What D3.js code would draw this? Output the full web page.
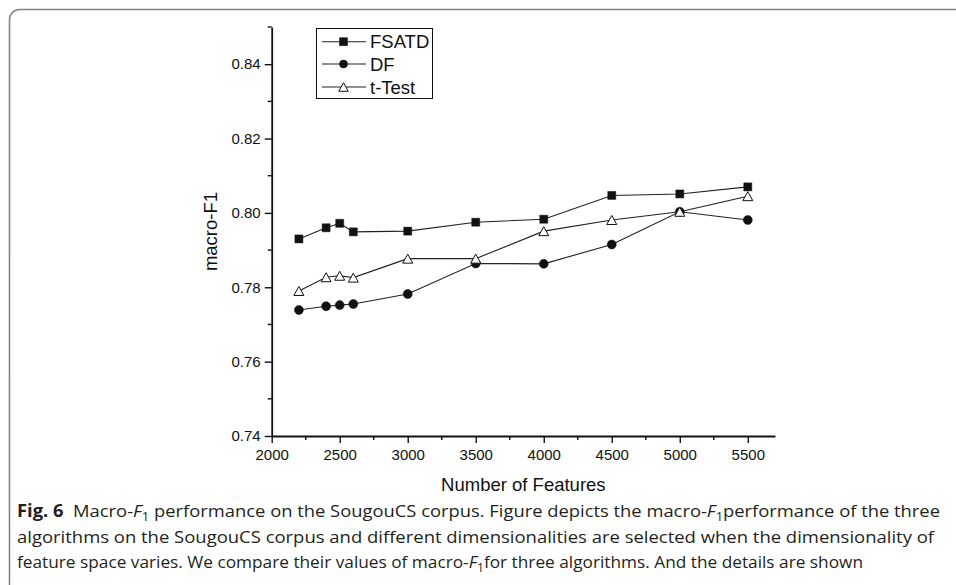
<!DOCTYPE html>
<html>
<head>
<meta charset="utf-8">
<script src="https://cdn.jsdelivr.net/npm/d3@7"></script>
<style>
    body { margin: 0; background: #fff; }
    svg { display: block; }
</style>
</head>
<body>
<div id="svg-container"></div>
<script>
const [WIDTH, HEIGHT] = [956, 585]
const PLOT = { left: 271.7, right: 775, top: 27, bottom: 436 }

// values
const features = [2200, 2400, 2500, 2600, 3000, 3500, 4000, 4500, 5000, 5500]
const fsatd = [0.7930, 0.7960, 0.7972, 0.7949, 0.7951, 0.7975, 0.7983, 0.8047, 0.8051, 0.8070]
const df = [0.7739, 0.7749, 0.7752, 0.7755, 0.7782, 0.7864, 0.7863, 0.7915, 0.8003, 0.7981]
const tTest = [0.7790, 0.7827, 0.7831, 0.7826, 0.7877, 0.7877, 0.7951, 0.7981, 0.8003, 0.8045]
const seriesNames = ['FSATD', 'DF', 't-Test']
const xTicks = [2000, 2500, 3000, 3500, 4000, 4500, 5000, 5500]
const xMinorTicks = [2250, 2750, 3250, 3750, 4250, 4750, 5250]
const yTicks = [0.74, 0.76, 0.78, 0.80, 0.82, 0.84]
const yMinorTicks = [0.75, 0.77, 0.79, 0.81, 0.83, 0.85]

const FONT = '"Liberation Sans", Arial, sans-serif'
const CAPTION_FONT = '"Open Sans", "Noto Sans", sans-serif'
const INK = '#111'

function markerPath(kind, s) {
    if (kind === 'square') return `M${-s/2},${-s/2}h${s}v${s}h${-s}Z`
    if (kind === 'circle') return `M${-s/2},0a${s/2},${s/2} 0 1,0 ${s},0a${s/2},${s/2} 0 1,0 ${-s},0Z`
    return `M0,${-s*0.45}L${s/2},${s*0.45}L${-s/2},${s*0.45}Z` // triangle
}

function main() {
    const series = [
        { name: seriesNames[0], values: fsatd, kind: 'square', size: 8, fill: INK },
        { name: seriesNames[1], values: df, kind: 'circle', size: 9, fill: INK },
        { name: seriesNames[2], values: tTest, kind: 'triangle', size: 10, fill: '#fff' },
    ]

    const svg = d3.select('#svg-container').append('svg')
        .attr('width', WIDTH)
        .attr('height', HEIGHT)
        .attr('viewBox', [0, 0, WIDTH, HEIGHT])

    // rounded figure frame, runs off the right and bottom edges
    svg.append('rect')
        .attr('x', 9.5).attr('y', 9.5)
        .attr('width', 1000).attr('height', 620)
        .attr('rx', 10)
        .attr('fill', 'none')
        .attr('stroke', '#808080')
        .attr('stroke-width', 1.5)

    const x = d3.scaleLinear([2000, 5700], [PLOT.left, PLOT.right])
    const y = d3.scaleLinear([0.74, 0.85], [PLOT.bottom, PLOT.top])

    drawAxes(svg, x, y)

    // lines then markers, one series at a time so later markers sit on top
    const line = d3.line().x(d => x(d[0])).y(d => y(d[1]))
    series.forEach(s => {
        const pts = features.map((f, i) => [f, s.values[i]])
        const g = svg.append('g').classed('series', true)
        g.append('path')
            .attr('d', line(pts))
            .attr('fill', 'none')
            .attr('stroke', '#222')
            .attr('stroke-width', 1.1)
        g.selectAll('path.mark')
            .data(pts)
            .join('path')
            .classed('mark', true)
            .attr('transform', d => `translate(${x(d[0])},${y(d[1])})`)
            .attr('d', markerPath(s.kind, s.size))
            .attr('fill', s.fill)
            .attr('stroke', INK)
            .attr('stroke-width', s.kind === 'triangle' ? 1 : 0.5)
    })

    drawLegend(svg, series)
    drawCaption(svg)
}

function drawAxes(svg, x, y) {
    const xAxis = svg.append('g')
        .classed('x-axis', true)
        .attr('transform', `translate(0,${PLOT.bottom})`)
        .call(d3.axisBottom(x).tickValues(xTicks).tickSizeInner(7).tickSizeOuter(0).tickPadding(6).tickFormat(d3.format('d')))
    svg.append('g')
        .attr('transform', `translate(0,${PLOT.bottom})`)
        .selectAll('line')
        .data(xMinorTicks)
        .join('line')
        .attr('x1', d => x(d)).attr('x2', d => x(d))
        .attr('y1', 0).attr('y2', 4)
        .attr('stroke', INK).attr('stroke-width', 1.4)

    const yAxis = svg.append('g')
        .classed('y-axis', true)
        .attr('transform', `translate(${PLOT.left},0)`)
        .call(d3.axisLeft(y).tickValues(yTicks).tickSizeInner(7).tickSizeOuter(0).tickPadding(4).tickFormat(d3.format('.2f')))
    svg.append('g')
        .attr('transform', `translate(${PLOT.left},0)`)
        .selectAll('line')
        .data(yMinorTicks)
        .join('line')
        .attr('y1', d => y(d)).attr('y2', d => y(d))
        .attr('x1', 0).attr('x2', -4)
        .attr('stroke', INK).attr('stroke-width', 1.4)

    for (const g of [xAxis, yAxis]) {
        g.select('.domain').attr('stroke', INK).attr('stroke-width', 1.8)
        g.selectAll('.tick line').attr('stroke', INK).attr('stroke-width', 1.4)
        g.selectAll('.tick text')
            .attr('fill', INK)
            .style('font-family', FONT)
            .style('font-size', '15px')
    }

    svg.append('text')
        .attr('x', (PLOT.left + PLOT.right) / 2)
        .attr('y', 491)
        .attr('text-anchor', 'middle')
        .style('font-family', FONT)
        .style('font-size', '18.5px')
        .attr('fill', INK)
        .text('Number of Features')

    svg.append('text')
        .attr('transform', `translate(217,${(PLOT.top + PLOT.bottom) / 2}) rotate(-90)`)
        .attr('text-anchor', 'middle')
        .style('font-family', FONT)
        .style('font-size', '18.5px')
        .attr('fill', INK)
        .text('macro-F1')
}

function drawLegend(svg, series) {
    const legend = svg.append('g').classed('legend', true)
    legend.append('rect')
        .attr('x', 316.5).attr('y', 28.5)
        .attr('width', 116).attr('height', 70)
        .attr('fill', '#fff')
        .attr('stroke', INK)
        .attr('stroke-width', 1)

    const rowY = [41.7, 64, 87]
    const rows = legend.selectAll('g.row')
        .data(series)
        .join('g')
        .classed('row', true)
        .attr('transform', (d, i) => `translate(0,${rowY[i]})`)
    rows.append('line')
        .attr('x1', 322).attr('x2', 366)
        .attr('stroke', '#222').attr('stroke-width', 1.1)
    rows.append('path')
        .attr('transform', 'translate(343.5,0)')
        .attr('d', d => markerPath(d.kind, d.kind === 'triangle' ? 9.5 : 8))
        .attr('fill', d => d.fill)
        .attr('stroke', INK)
        .attr('stroke-width', d => d.kind === 'triangle' ? 1 : 0.5)
    rows.append('text')
        .attr('x', 370)
        .attr('y', 6.6)
        .style('font-family', FONT)
        .style('font-size', '18.5px')
        .attr('fill', INK)
        .text(d => d.name)
}

function drawCaption(svg) {
    // each line: list of [text, style]
    const lines = [
        { len: 923, parts: [['Fig. 6', 'b'], ['  Macro-', ''], ['F', 'i'], ['1', 'sub'], [' performance on the SougouCS corpus. Figure depicts the macro-', ''], ['F', 'i'], ['1', 'sub'], ['performance of the three', '']] },
        { len: 917, parts: [['algorithms on the SougouCS corpus and different dimensionalities are selected when the dimensionality of', '']] },
        { len: 846, parts: [['feature space varies. We compare their values of macro-', ''], ['F', 'i'], ['1', 'sub'], ['for three algorithms. And the details are shown', '']] },
    ]
    const baseY = [517, 542.5, 568]
    lines.forEach((ln, i) => {
        const t = svg.append('text')
            .attr('x', 17)
            .attr('y', baseY[i])
            .attr('textLength', ln.len)
            .attr('lengthAdjust', 'spacingAndGlyphs')
            .style('font-family', CAPTION_FONT)
            .style('font-size', '17px')
            .style('white-space', 'pre')
            .attr('fill', '#231f20')
        let shifted = 0
        ln.parts.forEach(([str, st]) => {
            const sp = t.append('tspan').text(str)
            if (st === 'b') sp.style('font-weight', 700)
            if (st === 'i') sp.style('font-style', 'italic')
            if (st === 'sub') {
                sp.attr('dy', 4).style('font-size', '12px')
                shifted = 4
            } else if (shifted) {
                sp.attr('dy', -shifted)
                shifted = 0
            }
        })
    })
}

main()
</script>
</body>
</html>
